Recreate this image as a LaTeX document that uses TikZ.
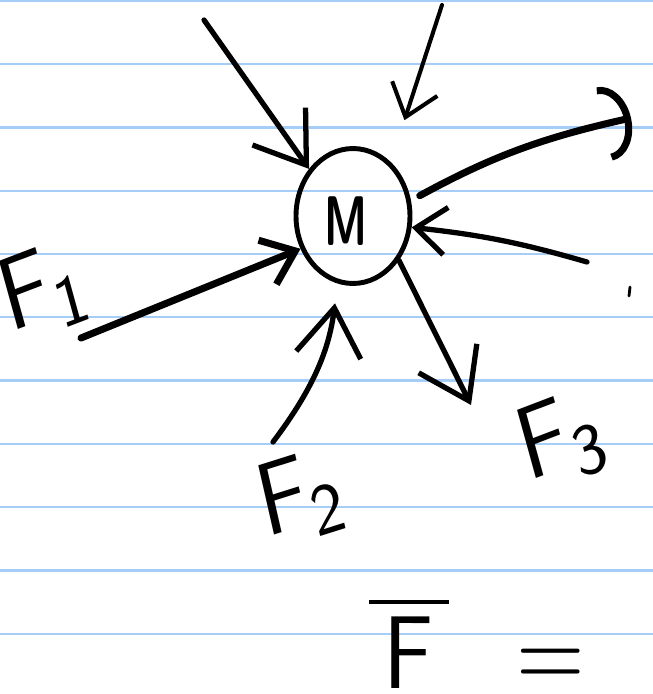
\documentclass[tikz,border=0pt]{standalone}
\usepackage{amsmath}
\usetikzlibrary{arrows.meta,shapes.geometric}

\definecolor{ruleblue}{RGB}{165,205,245}

\begin{document}
\begin{tikzpicture}[x=0.02cm, y=-0.02cm,
    ink/.style={line width=3pt, line cap=round, line join=round},
    heavy/.style={ink, line width=4pt},
    fine/.style={ink, line width=2.3pt},
    barb/.style={-{Straight Barb[length=0.6cm,width=0.95cm]}},
    bigbarb/.style={-{Straight Barb[length=0.95cm,width=1.3cm]}},
    lbl/.style={font=\sffamily, inner sep=0pt, scale=5.9, xscale=0.85}]
  \useasboundingbox (0,0) rectangle (653,694);
  \fill[white] (0,0) rectangle (653,694);
  % ruled paper
  \foreach \k in {0,...,10}
    \draw[ruleblue, line width=1.3pt] (0,{0.8+63.3*\k}) -- (653,{0.8+63.3*\k});

  % the mass
  \node[draw, ellipse, line width=2.8pt, minimum width=2.28cm, minimum height=2.7cm,
        inner sep=0pt] (m) at (353,216) {};
  \node[font=\sffamily\bfseries, inner sep=0pt, xscale=2.5, yscale=4.0] (mlabel) at (346,221) {M};

  % free ends of the forces
  \coordinate (t1) at (204,20);
  \coordinate (t2) at (442,5);
  \coordinate (h3) at (631,118);
  \coordinate (t4) at (587,262);
  \coordinate (h5) at (471,405);
  \coordinate (t6) at (273,442);
  \coordinate (t7) at (81,338);

  \draw[ink, bigbarb] (t1) -- (m.133);
  \draw[fine, barb, shorten >=0.88cm] (t2) -- (m.55);
  \draw[heavy, -{Arc Barb[length=0.55cm,width=1.5cm]}, shorten <=0.2cm] (m.15) to[bend left=8] (h3);
  \draw[ink, barb] (t4) to[bend right=5] (m.-11);
  \draw[ink, bigbarb] (m.-44) -- (h5);
  \draw[ink, bigbarb, shorten >=0.4cm] (t6) to[bend right=15] (m.257);
  \draw[heavy, barb] (t7) -- (m.212);

  % labels
  \node[lbl, rotate=18] (f1) at (45,290) {F\textsubscript{1}};
  \node[lbl, rotate=15] (f2) at (302,497) {F\textsubscript{2}};
  \node[lbl, rotate=18] (f3) at (563,440) {F\textsubscript{3}};
  \node[lbl] (fbar) at (409,642) {$\overline{\,\mathsf{F}\,}$};
  \node[lbl] (eq) at (551,668) {=};
  \draw[line width=1.6pt, line cap=round] (630,287) -- (629,296);
\end{tikzpicture}
\end{document}
